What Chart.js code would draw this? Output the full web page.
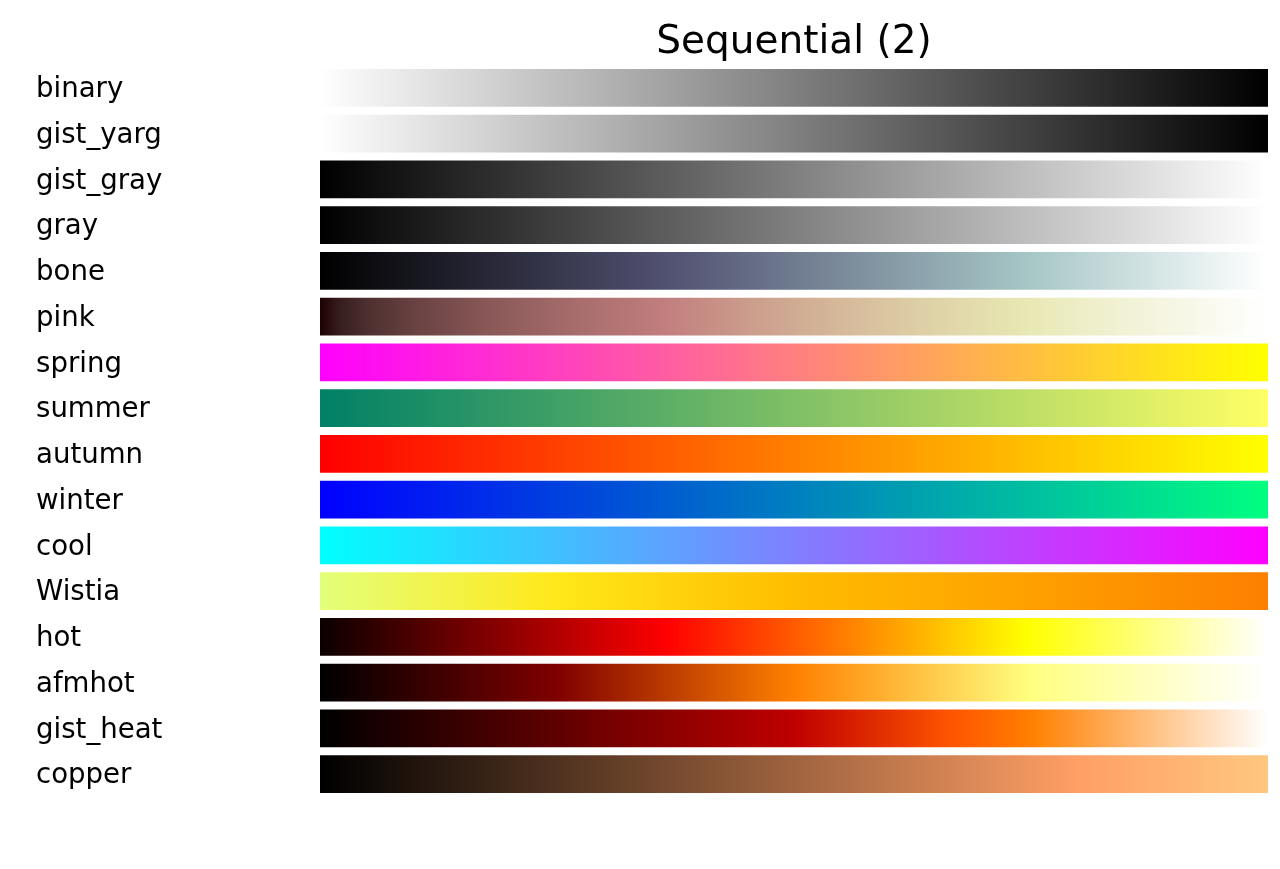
<!DOCTYPE html>
<html>
<head>
<meta charset="utf-8">
<script src="https://cdn.jsdelivr.net/npm/chart.js@4/dist/chart.umd.min.js"></script>
<style>
  html, body { margin: 0; padding: 0; background: #ffffff; }
  #c { display: block; }
</style>
</head>
<body>
<canvas id="c" width="1280" height="869"></canvas>
<script>
// Colormap names (categories, top to bottom)
const categories = ['binary', 'gist_yarg', 'gist_gray', 'gray', 'bone', 'pink',
  'spring', 'summer', 'autumn', 'winter', 'cool', 'Wistia',
  'hot', 'afmhot', 'gist_heat', 'copper'];

// Each bar spans the colormap domain from 0 to 1
const rangeStart = [0, 0, 0, 0, 0, 0, 0, 0, 0, 0, 0, 0, 0, 0, 0, 0];
const rangeEnd   = [1, 1, 1, 1, 1, 1, 1, 1, 1, 1, 1, 1, 1, 1, 1, 1];

// Colour stops for each colormap: [position, colour]
const binaryStops   = [[0, '#ffffff'], [1, '#000000']];
const gistYargStops = [[0, '#ffffff'], [1, '#000000']];
const gistGrayStops = [[0, '#000000'], [1, '#ffffff']];
const grayStops     = [[0, '#000000'], [1, '#ffffff']];
const boneStops     = [[0, '#000000'], [0.365079, '#515171'], [0.746032, '#a6c6c6'], [1, '#ffffff']];
const pinkStops     = [[0, 'rgb(30,0,0)'], [0.02, 'rgb(54,29,29)'], [0.05, 'rgb(77,47,47)'],
  [0.1, 'rgb(105,66,66)'], [0.175, 'rgb(136,87,87)'], [0.25, 'rgb(161,104,104)'],
  [0.365, 'rgb(194,126,126)'], [0.45, 'rgb(203,156,140)'], [0.55, 'rgb(213,185,154)'],
  [0.65, 'rgb(223,211,168)'], [0.746, 'rgb(232,232,180)'], [0.82, 'rgb(239,239,205)'],
  [0.9, 'rgb(246,246,228)'], [1, 'rgb(255,255,255)']];
const springStops   = [[0, '#ff00ff'], [1, '#ffff00']];
const summerStops   = [[0, '#008066'], [1, '#ffff66']];
const autumnStops   = [[0, '#ff0000'], [1, '#ffff00']];
const winterStops   = [[0, '#0000ff'], [1, '#00ff80']];
const coolStops     = [[0, '#00ffff'], [1, '#ff00ff']];
const wistiaStops   = [[0, '#e4ff7a'], [0.25, '#ffe81a'], [0.5, '#ffbd00'], [0.75, '#ffa000'], [1, '#fc7f00']];
const hotStops      = [[0, '#0b0000'], [0.365079, '#ff0000'], [0.746032, '#ffff00'], [1, '#ffffff']];
const afmhotStops   = [[0, '#000000'], [0.25, '#800000'], [0.5, '#ff8000'], [0.75, '#ffff80'], [1, '#ffffff']];
const gistHeatStops = [[0, '#000000'], [0.5, '#bf0000'], [0.6667, '#ff5500'], [0.75, '#ff8000'], [1, '#ffffff']];
const copperStops   = [[0, '#000000'], [0.8, '#ff9f65'], [1, '#ffc77f']];

const allStops = [binaryStops, gistYargStops, gistGrayStops, grayStops, boneStops, pinkStops,
  springStops, summerStops, autumnStops, winterStops, coolStops, wistiaStops,
  hotStops, afmhotStops, gistHeatStops, copperStops];

const titleText = 'Sequential (2)';

Chart.defaults.font.family = "'DejaVu Sans', sans-serif";
Chart.defaults.color = '#000000';

const barData = categories.map((c, i) => [rangeStart[i], rangeEnd[i]]);

new Chart(document.getElementById('c'), {
  type: 'bar',
  data: {
    labels: categories,
    datasets: [{
      data: barData,
      borderWidth: 0,
      barPercentage: 0.825,
      categoryPercentage: 1,
      backgroundColor: (ctx) => {
        const chart = ctx.chart;
        if (!chart.chartArea) return '#888';
        const xs = chart.scales.x;
        const x0 = xs.getPixelForValue(0);
        const x1 = xs.getPixelForValue(1);
        const g = chart.ctx.createLinearGradient(x0, 0, x1, 0);
        allStops[ctx.dataIndex].forEach(s => g.addColorStop(s[0], s[1]));
        return g;
      }
    }]
  },
  options: {
    indexAxis: 'y',
    responsive: false,
    animation: false,
    events: [],
    layout: { padding: { left: 36, right: 12, top: 0, bottom: 72 } },
    plugins: {
      legend: { display: false },
      tooltip: { enabled: false },
      title: {
        display: true,
        text: titleText,
        fullSize: false,
        color: '#000000',
        font: { size: 39, weight: 'normal', family: "'DejaVu Sans', sans-serif", lineHeight: 1.1 },
        padding: { top: 21.5, bottom: 0.6 }
      }
    },
    scales: {
      x: { display: false, min: 0, max: 1 },
      y: {
        type: 'category',
        grid: { display: false },
        border: { display: false },
        ticks: {
          crossAlign: 'far',
          padding: 0,
          labelOffset: 2,
          color: '#000000',
          font: { size: 27.6, family: "'DejaVu Sans', sans-serif" }
        },
        afterFit: (scale) => { scale.width = 284; }
      }
    }
  }
});
</script>
</body>
</html>
